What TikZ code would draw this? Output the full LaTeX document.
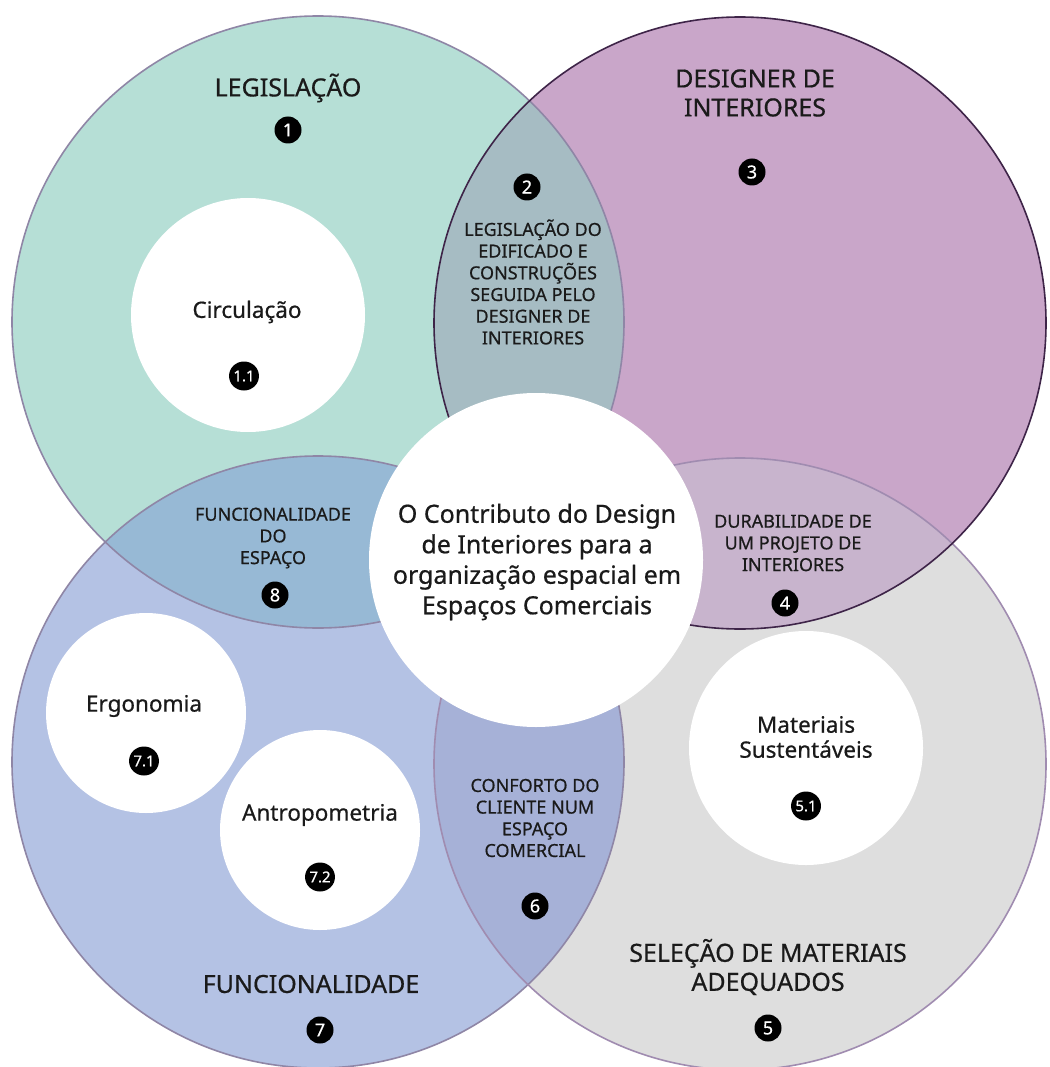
\documentclass[tikz,border=0pt]{standalone}
\usepackage{fontspec}
\setmainfont{Noto Sans}[FakeBold=0.6]
\usetikzlibrary{shapes.geometric}
\definecolor{tealc}{HTML}{B6DFD6}
\definecolor{magc}{HTML}{C9A6C9}
\definecolor{bluec}{HTML}{B4C2E4}
\definecolor{greyc}{HTML}{DEDEDE}
\definecolor{lensTM}{HTML}{A6BCC3}
\definecolor{lensTB}{HTML}{97B9D5}
\definecolor{lensMG}{HTML}{C8B4CD}
\definecolor{lensBG}{HTML}{A6B1D7}
\definecolor{strokeA}{HTML}{8F86A6}
\definecolor{strokeM}{HTML}{3E2448}
\definecolor{strokeG}{HTML}{A08CB0}
\definecolor{txt}{HTML}{1A1A1A}
\tikzset{
  badge/.style={circle, fill=black, text=white, inner sep=0pt, minimum size=27pt,
    font=\fontsize{18}{18}\selectfont},
  badgesm/.style={ellipse, fill=black, text=white, inner sep=0pt, minimum width=25pt,
    minimum height=29pt, font=\fontsize{15}{15}\selectfont},
  biglabel/.style={align=center, text=txt, font=\fontsize{25}{29}\selectfont},
  lenslabel/.style={align=center, text=txt, font=\fontsize{18}{21.7}\selectfont},
  innerlabel/.style={align=center, text=txt, font=\fontsize{22.5}{25}\selectfont},
  whitedisc/.style={circle, fill=white, inner sep=0pt},
  ring/.style={line width=1.6pt},
}
\begin{document}
\begin{tikzpicture}[x=1pt, y=-1pt]
\useasboundingbox[fill=white] (0,0) rectangle (1049,1067);
\def\R{306pt}
\coordinate (cL) at (318,322);
\coordinate (cM) at (740,323);
\coordinate (cB) at (318,762);
\coordinate (cG) at (740,764);
% big circles
\fill[tealc] (cL) circle[radius=\R];
\fill[magc] (cM) circle[radius=\R];
\fill[bluec] (cB) circle[radius=\R];
\fill[greyc] (cG) circle[radius=\R];
% lenses
\begin{scope}\clip (cL) circle[radius=\R]; \fill[lensTM] (cM) circle[radius=\R];\end{scope}
\begin{scope}\clip (cL) circle[radius=\R]; \fill[lensTB] (cB) circle[radius=\R];\end{scope}
\begin{scope}\clip (cM) circle[radius=\R]; \fill[lensMG] (cG) circle[radius=\R];\end{scope}
\begin{scope}\clip (cB) circle[radius=\R]; \fill[lensBG] (cG) circle[radius=\R];\end{scope}
% outlines
\draw[ring, strokeA] (cL) circle[radius=\R];
\draw[ring, strokeA] (cB) circle[radius=\R];
\draw[ring, strokeG] (cG) circle[radius=\R];
\draw[ring, strokeM] (cM) circle[radius=\R];
% white discs
\node[whitedisc, minimum size=334pt] (centre) at (536,560) {};
\node[whitedisc, minimum size=234pt] (circd) at (248,315) {};
\node[whitedisc, minimum size=200pt] (ergd) at (146,713) {};
\node[whitedisc, minimum size=200pt] (antd) at (320,830) {};
\node[whitedisc, minimum size=234pt] (matd) at (806,748) {};
% centre text
\node[align=center, text=txt, font=\fontsize{25}{30.5}\selectfont] (title) at (537,562)
  {O Contributo do Design\\de Interiores para a\\organização espacial em\\Espaços Comerciais};
% big labels
\node[biglabel] (legis) at (288,88) {LEGISLAÇÃO};
\node[biglabel] (desig) at (755,93) {DESIGNER DE\\INTERIORES};
\node[biglabel] (func) at (311,984) {FUNCIONALIDADE};
\node[biglabel] (selec) at (768,967) {SELEÇÃO DE MATERIAIS\\ADEQUADOS};
% lens labels
\node[lenslabel] (l2) at (533,282) {LEGISLAÇÃO DO\\EDIFICADO E\\CONSTRUÇÕES\\SEGUIDA PELO\\DESIGNER DE\\INTERIORES};
\node[lenslabel] (l8) at (273,538) {FUNCIONALIDADE\\DO\\ESPAÇO};
\node[lenslabel] (l4) at (793,543) {DURABILIDADE DE\\UM PROJETO DE\\INTERIORES};
\node[lenslabel] (l6) at (535,818) {CONFORTO DO\\CLIENTE NUM\\ESPAÇO\\COMERCIAL};
% inner labels
\node[innerlabel] (circ) at (247,312) {Circulação};
\node[innerlabel] (ergo) at (144,706) {Ergonomia};
\node[innerlabel] (antr) at (320,815) {Antropometria};
\node[innerlabel] (mate) at (806,737) {Materiais\\Sustentáveis};
% badges
\node[badge] (b1) at (288,130) {1};
\node[badge] (b2) at (527,187) {2};
\node[badge] (b3) at (752,172) {3};
\node[badge] (b4) at (785,603) {4};
\node[badge] (b5) at (768,1028) {5};
\node[badge] (b6) at (535,906) {6};
\node[badge] (b7) at (320,1030) {7};
\node[badge] (b8) at (275,595) {8};
\node[badgesm] (b11) at (244,376) {1.1};
\node[badgesm] (b71) at (144,761) {7.1};
\node[badgesm] (b72) at (320,877) {7.2};
\node[badgesm] (b51) at (806,806) {5.1};
\end{tikzpicture}
\end{document}
